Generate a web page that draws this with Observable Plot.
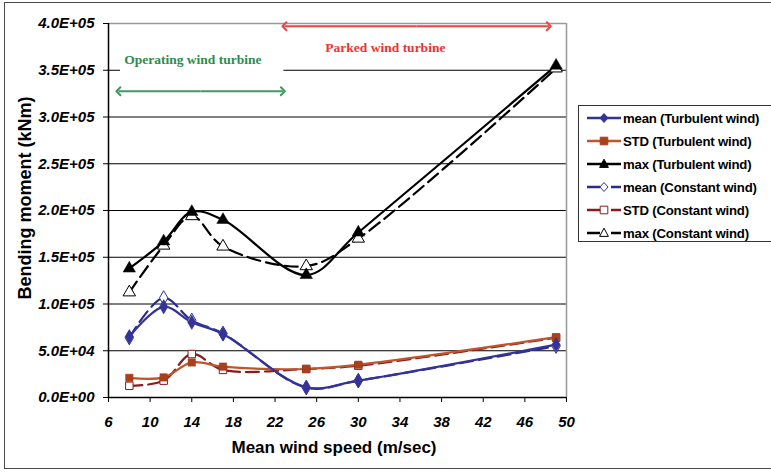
<!DOCTYPE html>
<html>
<head>
<meta charset="utf-8">
<script src="https://cdn.jsdelivr.net/npm/d3@7"></script>
<script src="https://cdn.jsdelivr.net/npm/@observablehq/plot@0.6"></script>
<style>
  html, body { margin: 0; padding: 0; background: #fff; }
  #wrap { position: relative; width: 771px; height: 472px; overflow: hidden; font-family: "Liberation Sans", Arial, sans-serif; }
  #border { position: absolute; left: 4px; top: 2px; width: 820px; height: 467px; border: 1.5px solid #4a4a4a; box-sizing: border-box; pointer-events: none; }
  #chart { position: absolute; left: 0; top: 0; }
  .title { position: absolute; font-weight: bold; color: #000; white-space: nowrap; }
  #xtitle { left: 334px; top: 438px; font-size: 17px; transform: translateX(-50%); }
  #ytitle { left: 25px; top: 198px; font-size: 18px; transform: translate(-50%, -50%) rotate(-90deg); }
  #legend { position: absolute; left: 578px; top: 105px; width: 220px; height: 137px; border: 1px solid #333; background: #fff; box-sizing: border-box; }
  .item { position: absolute; left: 7px; height: 20px; display: flex; align-items: center; white-space: nowrap; font-weight: bold; font-size: 13.2px; letter-spacing: -0.2px; color: #000; }
</style>
</head>
<body>
<div id="wrap">
  <div id="chart"></div>
  <div id="border"></div>
  <div class="title" id="xtitle">Mean wind speed (m/sec)</div>
  <div class="title" id="ytitle">Bending moment (kNm)</div>
  <div id="legend"></div>
</div>
<script>
// Mean wind speed (m/s) of each load case
const windSpeed = [8, 11.3, 14, 17, 25, 30, 49];

// Bending moment (kNm) under turbulent wind
const meanTurbulent = [65000, 97000, 80500, 68000, 11000, 18000, 56500];
const stdTurbulent  = [21000, 21500, 37500, 33000, 30500, 35000, 64500];
const maxTurbulent  = [138000, 167000, 198500, 190000, 131000, 176500, 355000];

// Bending moment (kNm) under constant wind
const meanConstant = [64000, 106500, 82500, 68500, 10500, 18000, 55000];
const stdConstant  = [12500, 18000, 46500, 29500, 30500, 34000, 64000];
const maxConstant  = [112500, 162500, 194000, 161500, 140500, 170000, 352000];

// Axis ticks
const xTicks = [6, 10, 14, 18, 22, 26, 30, 34, 38, 42, 46, 50];
const yTicks = [0, 50000, 100000, 150000, 200000, 250000, 300000, 350000, 400000];

// Operating / parked regime annotations
const regimes = [
  {label: "Operating wind turbine", color: "#2e8b4f", arrowColor: "#3f9a63", x1: 6.95, x2: 22.75, xText: 14.1, yArrow: 327500, yText: 361000},
  {label: "Parked wind turbine", color: "#ee3333", arrowColor: "#ee4444", x1: 22.9, x2: 48.3, xText: 32.6, yArrow: 397000, yText: 374000}
];

const series = [
  {name: "mean (Turbulent wind)", values: meanTurbulent, color: "#333399", line: "#333399", symbol: "diamond", open: false, dashed: false},
  {name: "STD (Turbulent wind)",  values: stdTurbulent,  color: "#a8401c", line: "#c0552d", symbol: "square", open: false, dashed: false},
  {name: "max (Turbulent wind)",  values: maxTurbulent,  color: "#000000", line: "#000000", symbol: "triangle", open: false, dashed: false},
  {name: "mean (Constant wind)",  values: meanConstant,  color: "#333399", line: "#2b2b8c", symbol: "diamond", open: true, dashed: true},
  {name: "STD (Constant wind)",   values: stdConstant,   color: "#8b1a1a", line: "#8b1a1a", symbol: "square", open: true, dashed: true},
  {name: "max (Constant wind)",   values: maxConstant,   color: "#000000", line: "#000000", symbol: "triangle", open: true, dashed: true}
];

const sci = d => {
  const [m, e] = d.toExponential(1).split("e");
  return `${m}E${e[0]}${e.slice(1).padStart(2, "0")}`;
};

const rows = s => windSpeed.map((x, i) => ({x, y: s.values[i]}));
const dash = "13,6";

const marks = [
  // horizontal gridlines
  Plot.ruleY(yTicks.filter(d => d > 0 && d < 400000), {stroke: "#000", strokeWidth: 1}),
  // plot-area border (top and right)
  Plot.ruleY([400000], {stroke: "#999", strokeWidth: 1.5}),
  Plot.ruleX([50], {stroke: "#999", strokeWidth: 1.5}),
  // white box behind the operating label
  Plot.rect([regimes[0]], {x1: 7.15, x2: 22.85, y1: 338000, y2: 378000, fill: "#fff"}),
  Plot.axisX({ticks: xTicks, tickSize: 5, tickPadding: 14, tickFormat: d => d, label: null,
    fontSize: 15, fontWeight: "bold", fontStyle: "italic", fontFamily: "Liberation Sans"}),
  Plot.axisY({ticks: yTicks, tickSize: 5, tickPadding: 9, tickFormat: sci, label: null,
    fontSize: 15, fontWeight: "bold", fontStyle: "italic", fontFamily: "Liberation Sans"}),
  Plot.ruleX([6], {stroke: "#000", strokeWidth: 1.5}),
  Plot.ruleY([0], {stroke: "#000", strokeWidth: 1.5})
];

// lines: constant (dashed) drawn beneath turbulent (solid)
for (const s of [...series].reverse()) {
  marks.push(Plot.line(rows(s), {x: "x", y: "y", curve: "catmull-rom", stroke: s.line,
    strokeWidth: 2.2, strokeDasharray: s.dashed ? dash : null}));
}
for (const s of [...series].reverse()) {
  const r = s.symbol === "square" ? 4.2 : s.symbol === "triangle" ? 4.6 : 4.4;
  marks.push(Plot.dot(rows(s), {x: "x", y: "y", symbol: s.symbol, r,
    fill: s.open ? "#fff" : s.color, stroke: s.color, strokeWidth: s.open ? 1 : 0.5}));
}

// regime annotations: double-headed arrows and labels
for (const a of regimes) {
  const mid = (a.x1 + a.x2) / 2;
  marks.push(Plot.link([{a: mid, b: a.x1}, {a: mid, b: a.x2}], {
    x1: "a", x2: "b", y1: () => a.yArrow, y2: () => a.yArrow,
    stroke: a.arrowColor, strokeWidth: 2, markerEnd: "arrow"}));
  marks.push(Plot.text([a], {x: "xText", y: "yText", text: "label", fill: a.color,
    fontFamily: "Liberation Serif", fontWeight: "bold", fontSize: 13.5}));
}

const chart = Plot.plot({
  width: 771,
  height: 472,
  marginLeft: 108,
  marginRight: 205,
  marginTop: 23,
  marginBottom: 75,
  x: {domain: [6, 50], type: "linear"},
  y: {domain: [0, 400000], type: "linear"},
  style: {fontFamily: "Liberation Sans", background: "#fff", overflow: "visible"},
  marks
});
document.getElementById("chart").appendChild(chart);

// legend entries
const legend = document.getElementById("legend");
const symPath = {
  diamond: "M0,-4.5L4,0L0,4.5L-4,0Z",
  square: "M-3.8,-3.8H3.8V3.8H-3.8Z",
  triangle: "M0,-4.8L4.4,3.4H-4.4Z"
};
series.forEach((s, i) => {
  const div = document.createElement("div");
  div.className = "item";
  div.style.top = (2 + i * 23) + "px";
  const line = s.dashed
    ? `<line x1="1" x2="14" y1="10" y2="10" stroke="${s.line}" stroke-width="2.5"/><line x1="25" x2="35" y1="10" y2="10" stroke="${s.line}" stroke-width="2.5"/>`
    : `<line x1="1" x2="35" y1="10" y2="10" stroke="${s.line}" stroke-width="2.5"/>`;
  div.innerHTML = `<svg width="37" height="20">${line}<path transform="translate(18,10)" d="${symPath[s.symbol]}" fill="${s.open ? "#fff" : s.color}" stroke="${s.color}" stroke-width="1"/></svg><span>${s.name}</span>`;
  legend.appendChild(div);
});
</script>
</body>
</html>
